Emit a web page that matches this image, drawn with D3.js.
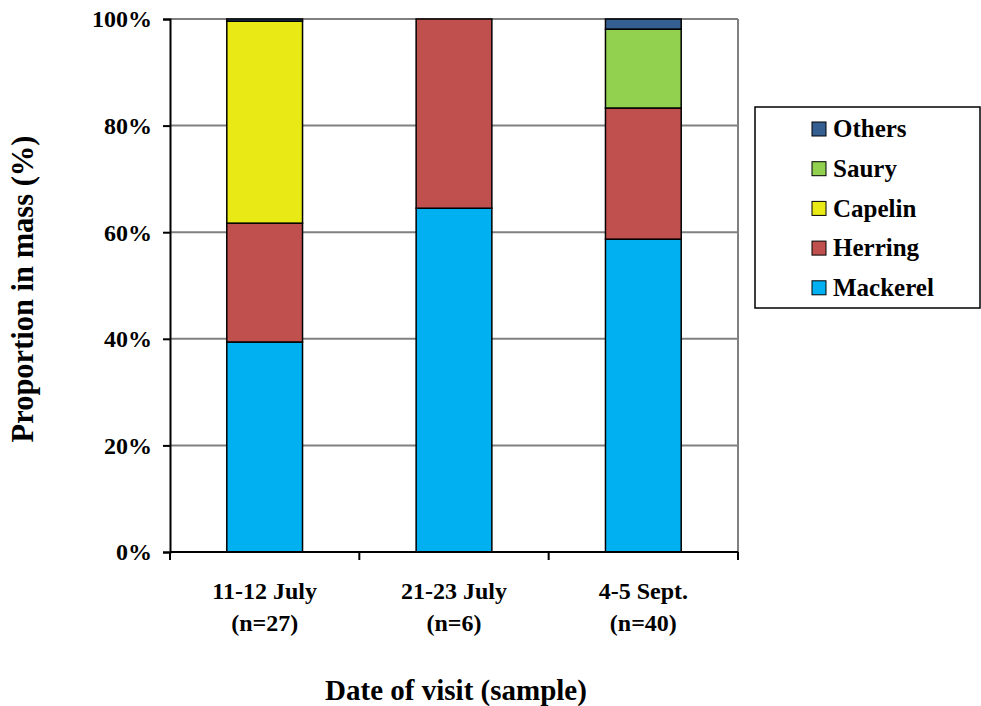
<!DOCTYPE html>
<html>
<head>
<meta charset="utf-8">
<script src="https://cdn.jsdelivr.net/npm/d3@7"></script>
<style>
  body { margin: 0; background: #fff; }
  svg text { font-family: "Liberation Serif", "Times New Roman", serif; font-weight: bold; fill: #000; }
</style>
</head>
<body>
<svg id="chart" width="981" height="706"></svg>
<script>
// Visit dates and sample sizes
const categories = ["11-12 July", "21-23 July", "4-5 Sept."];
const sampleSizes = ["(n=27)", "(n=6)", "(n=40)"];

// Prey species, bottom to top of each stack
const species = ["Mackerel", "Herring", "Capelin", "Saury", "Others"];

// Proportion in mass (%) per visit
const mackerel = [39.4, 64.5, 58.7];
const herring  = [22.3, 35.5, 24.6];
const capelin  = [37.9, 0, 0];
const saury    = [0, 0, 14.8];
const others   = [0.4, 0, 1.9];

const yTicks = [0, 20, 40, 60, 80, 100];
const colors = ["#00B0F0", "#C0504D", "#E9E916", "#92D050", "#355F91"];

const rows = categories.map((c, i) => ({
  cat: c,
  Mackerel: mackerel[i], Herring: herring[i], Capelin: capelin[i],
  Saury: saury[i], Others: others[i]
}));

const svg = d3.select("#chart");
const m = { left: 170, right: 981 - 738, top: 19, bottom: 706 - 552 };
const W = 981 - m.left - m.right, H = 706 - m.top - m.bottom;
const g = svg.append("g").attr("transform", `translate(${m.left},${m.top})`);

const x = d3.scaleBand().domain(categories).range([0, W]).paddingInner(0.6).paddingOuter(0.3);
const xTickScale = d3.scaleLinear().domain([0, categories.length]).range([0, W]);
const y = d3.scaleLinear().domain([0, 100]).range([H, 0]);
const color = d3.scaleOrdinal().domain(species).range(colors);

// Gridlines
g.append("g").selectAll("line").data(yTicks.filter(t => t > 0)).join("line")
  .attr("x1", 0).attr("x2", W)
  .attr("y1", d => y(d)).attr("y2", d => y(d))
  .attr("stroke", "#808080").attr("stroke-width", 2);

// Right border of plot
g.append("line").attr("x1", W).attr("x2", W).attr("y1", 0).attr("y2", H)
  .attr("stroke", "#808080").attr("stroke-width", 2);

// Stacked bars
const stack = d3.stack().keys(species)(rows);
g.append("g").selectAll("g").data(stack).join("g")
  .attr("fill", d => color(d.key))
  .selectAll("rect").data(d => d.filter(p => p[1] - p[0] > 0)).join("rect")
  .attr("x", d => x(d.data.cat))
  .attr("width", x.bandwidth())
  .attr("y", d => y(d[1]))
  .attr("height", d => y(d[0]) - y(d[1]))
  .attr("stroke", "#000").attr("stroke-width", 1.5);

// Y axis
const yAxis = g.append("g").call(d3.axisLeft(y).tickValues(yTicks).tickFormat(d => d + "%").tickSize(7).tickPadding(11));
yAxis.select(".domain").attr("stroke", "#000").attr("stroke-width", 2);
yAxis.selectAll(".tick line").attr("stroke", "#000").attr("stroke-width", 2);
yAxis.selectAll(".tick text").attr("font-size", 24).attr("font-family", "Liberation Serif").attr("font-weight", "bold").attr("dy", "0.33em");

// X axis baseline and ticks between categories
const xAxisG = g.append("g").attr("transform", `translate(0,${H})`);
xAxisG.append("line").attr("x1", 0).attr("x2", W).attr("stroke", "#000").attr("stroke-width", 2);
xAxisG.selectAll("line.tk").data(d3.range(categories.length + 1)).join("line")
  .attr("class", "tk")
  .attr("x1", d => xTickScale(d)).attr("x2", d => xTickScale(d))
  .attr("y1", 0).attr("y2", 8).attr("stroke", "#000").attr("stroke-width", 2);

const xl = xAxisG.selectAll("text.cat").data(categories).join("text")
  .attr("class", "cat")
  .attr("x", d => x(d) + x.bandwidth() / 2)
  .attr("text-anchor", "middle").attr("font-size", 24);
xl.append("tspan").attr("x", d => x(d) + x.bandwidth() / 2).attr("y", 47).text(d => d);
xl.append("tspan").attr("x", d => x(d) + x.bandwidth() / 2).attr("y", 79).text((d, i) => sampleSizes[i]);

// Axis titles
svg.append("text").attr("x", m.left + W / 2 + 2).attr("y", 700)
  .attr("text-anchor", "middle").attr("font-size", 29).text("Date of visit (sample)");
svg.append("text").attr("transform", `translate(33,289) rotate(-90)`)
  .attr("text-anchor", "middle").attr("font-size", 30.5).text("Proportion in mass (%)");

// Legend, top entry first
const lg = svg.append("g").attr("transform", "translate(755,107)");
lg.append("rect").attr("width", 225).attr("height", 201)
  .attr("fill", "#fff").attr("stroke", "#000").attr("stroke-width", 1.5);
const items = species.slice().reverse();
const li = lg.selectAll("g.item").data(items).join("g")
  .attr("class", "item")
  .attr("transform", (d, i) => `translate(64,${22 + i * 39.7})`);
li.append("rect").attr("x", -7).attr("y", -7).attr("width", 14).attr("height", 14)
  .attr("fill", d => color(d)).attr("stroke", "#000").attr("stroke-width", 1);
li.append("text").attr("x", 14).attr("dy", "0.33em").attr("font-size", 25).text(d => d);
</script>
</body>
</html>
